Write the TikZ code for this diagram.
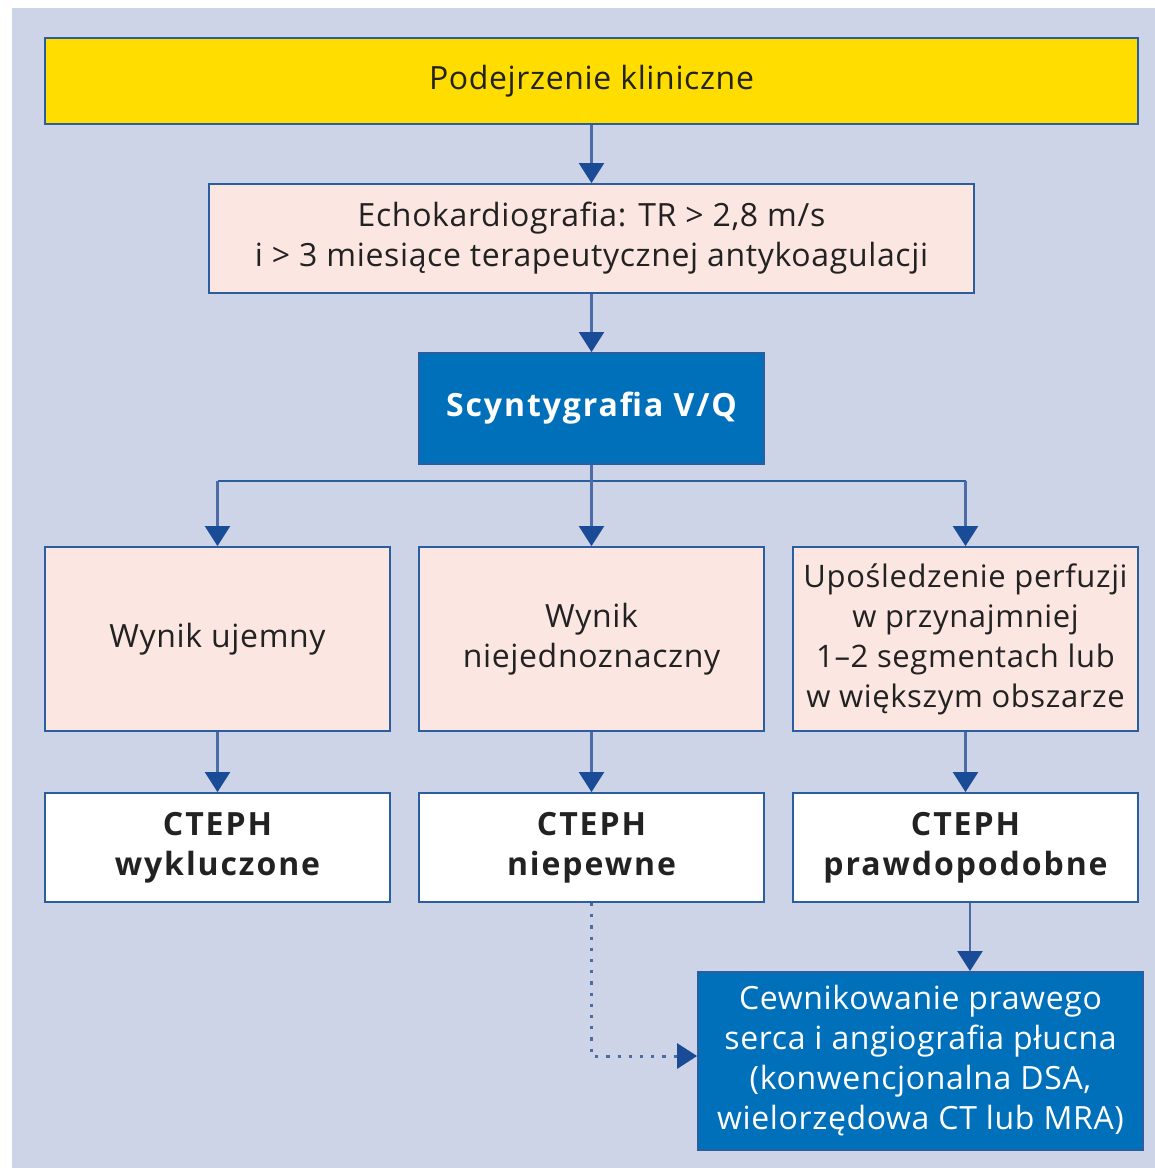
\documentclass[tikz,border=0pt]{standalone}
\usepackage{fontspec}
\setmainfont{Open Sans}[LetterSpace=2]
\setsansfont{Open Sans}[LetterSpace=6,BoldFont={Open Sans Bold}]
\usetikzlibrary{arrows.meta,positioning}
\definecolor{lavend}{HTML}{CED4E8}
\definecolor{frame}{HTML}{2A5E9F}
\definecolor{shaft}{HTML}{4B6CA6}
\definecolor{tipblue}{HTML}{1A4B96}
\definecolor{boxblue}{HTML}{0070BA}
\definecolor{pinkfill}{HTML}{FCE6E2}
\definecolor{yellowfill}{HTML}{FFDD00}
\definecolor{txt}{HTML}{222222}
\tikzset{
    box/.style={rectangle, draw=frame, line width=0.9pt, align=center,
      text=txt, font=\fontsize{16}{20}\selectfont},
    pinkbox/.style={box, fill=pinkfill},
    whitebox/.style={box, fill=white, font=\fontsize{16}{20}\selectfont\sffamily\bfseries},
    bluebox/.style={box, fill=boxblue, text=white},
    flow/.style={draw=shaft, line width=1.1pt,
      -{Triangle[width=12.5pt,length=10pt,color=tipblue]}},
}
\begin{document}
\begin{tikzpicture}[x=0.5pt,y=-0.5pt]
\useasboundingbox (0,0) rectangle (1155,1168);
\fill[white] (0,0) rectangle (1155,1168);
\fill[lavend] (12,8) rectangle (1155,1168);

\node[box, fill=yellowfill, minimum width = 546.5pt,
    minimum height = 43pt] (susp) at (591.5,81) {Podejrzenie kliniczne};
\node[pinkbox, minimum width = 382.5pt,
    minimum height = 54.5pt] (echo) at (591.5,238.5)
    {Echokardiografia: TR > 2,8 m/s\\i > 3 miesiące terapeutycznej antykoagulacji};
\node[bluebox, minimum width = 172.5pt,
    minimum height = 55.5pt, font=\fontsize{16}{20}\selectfont\sffamily\bfseries] (scint) at (591.5,408.5)
    {Scyntygrafia V/Q};

% wyniki scyntygrafii
\node[pinkbox, minimum width = 172.5pt,
    minimum height = 92pt] (neg) at (217.5,639) {Wynik ujemny};
\node[pinkbox, minimum width = 172.5pt,
    minimum height = 92pt] (unc) at (591.5,639) {Wynik\\niejednoznaczny};
\node[pinkbox, minimum width = 172.5pt,
    minimum height = 92pt, inner xsep=0pt, font=\fontsize{15.5}{20}\selectfont] (perf) at (965.5,639)
    {Upośledzenie perfuzji\\w przynajmniej\\1–2 segmentach lub\\w większym obszarze};

\node[whitebox, minimum width = 172.5pt,
    minimum height = 54.5pt] (excl) at (217.5,847.5) {CTEPH\\wykluczone};
\node[whitebox, minimum width = 172.5pt,
    minimum height = 54.5pt] (unsure) at (591.5,847.5) {CTEPH\\niepewne};
\node[whitebox, minimum width = 172.5pt,
    minimum height = 54.5pt] (prob) at (965.5,847.5) {CTEPH\\prawdopodobne};

\node[bluebox, minimum width = 222.5pt,
    minimum height = 89pt] (cath) at (920.5,1061)
    {Cewnikowanie prawego\\serca i angiografia płucna\\(konwencjonalna DSA,\\wielorzędowa CT lub MRA)};

\coordinate (split) at (591.5,481);

\draw[flow] (susp)--(echo);
\draw[flow] (echo)--(scint);
\draw[draw=frame, line width=0.9pt] (neg.north |- split)--(perf.north |- split);
\draw[flow] (scint)--(unc);
\draw[flow] (split -| neg.north)--(neg);
\draw[flow] (split -| perf.north)--(perf);
\draw[flow] (neg)--(excl);
\draw[flow] (unc)--(unsure);
\draw[flow] (perf)--(prob);
\draw[flow] ([xshift=2.25pt]prob.south)--([xshift=2.25pt]prob.south |- cath.north);
\draw[flow, dash pattern=on 1.6pt off 4pt, line width=1.5pt] (unsure.south)|-([yshift=2.5pt]cath.west);
\end{tikzpicture}
\end{document}
